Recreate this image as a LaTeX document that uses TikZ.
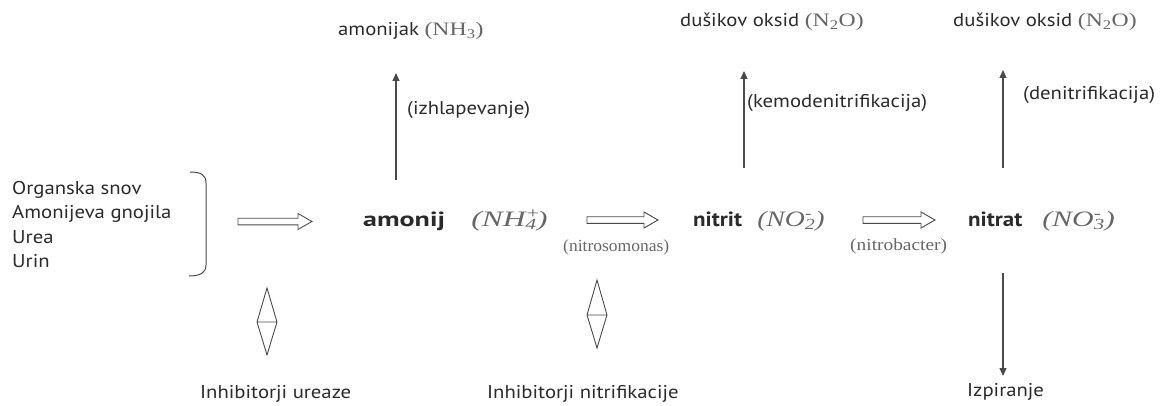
\documentclass[tikz,border=0pt]{standalone}
\usepackage{fontspec}
\setmainfont{PT Sans}[FakeStretch=1.12]
\newfontfamily\serifR{Liberation Serif}
\newfontfamily\serifW{Liberation Serif}[FakeStretch=1.25]
\usetikzlibrary{arrows.meta}
\definecolor{txt}{HTML}{2A2A2A}
\definecolor{gry}{HTML}{666666}
\definecolor{arr}{HTML}{4A4A4A}
\newcommand\harrow[4]{% start x, y, head x, tip x
  \draw[hollow] (#1,#2-3.3) -- (#3,#2-3.3) -- (#3,#2-8) -- (#4,#2) -- (#3,#2+8) -- (#3,#2+3.3) -- (#1,#2+3.3) -- cycle;}
\newcommand\inhibsym[4]{% x, top, mid, bottom
  \draw[inhib] (#1,#2) -- (#1+10,#3) -- (#1,#4) -- (#1-10,#3) -- cycle (#1-10,#3) -- (#1+10,#3);}
\newcommand\gchem[1]{{\fontsize{19}{22}\serifW\color{gry}#1}}
\begin{document}
\begin{tikzpicture}[x=1pt,y=-1pt,
  sans/.style={font=\fontsize{18.5}{22}\selectfont, text=txt, inner sep=0pt, anchor=base west},
  bld/.style={font=\fontsize{20.5}{24}\selectfont\bfseries, text=txt, inner sep=0pt, anchor=base west},
  chem/.style={font=\fontsize{22}{26}\serifR\itshape, text=gry, inner sep=0pt, anchor=base west},
  small/.style={font=\fontsize{17}{20}\serifR, text=gry, inner sep=0pt, anchor=base west},
  uparr/.style={draw=arr, line width=1.2pt, -{Triangle[length=8pt,width=7pt]}},
  hollow/.style={draw=arr, line width=0.9pt, fill=white},
  inhib/.style={draw=arr, line width=0.9pt},
]
\useasboundingbox (0,0) rectangle (1172,406);
% sources
\node[sans] (s1) at (12,194) {Organska snov};
\node[sans] (s2) at (12,218.5) {Amonijeva gnojila};
\node[sans] (s3) at (12,243) {Urea};
\node[sans] (s4) at (12,267.5) {Urin};
\draw[arr, line width=1pt] (190,172) .. controls (201,172) and (206,175) .. (206,183) -- (206,265) .. controls (206,273) and (200,276) .. (189,276);
% main row
\node[bld, xscale=1.22] (amonij) at (363,226) {amonij};
\node[chem, xscale=1.43] (nh4) at (471,226) {(NH\rlap{\textsuperscript{+}}\textsubscript{4})};
\node[bld] (nitrit) at (693,226) {nitrit};
\node[chem, xscale=1.26] (no2) at (757,226) {(NO\rlap{\textsuperscript{-}}\textsubscript{2})};
\node[bld] (nitrat) at (968,226) {nitrat};
\node[chem, xscale=1.36] (no3) at (1042,226) {(NO\rlap{\textsuperscript{-}}\textsubscript{3})};
\harrow{238}{221.5}{298}{312}
\harrow{587}{220}{644}{658}
\harrow{863}{220}{921}{935}
\node[small, xscale=1.03] (nsm) at (563,251) {(nitrosomonas)};
\node[small, xscale=1.14] (nbc) at (850,250) {(nitrobacter)};
% top products
\node[sans] (nh3) at (338,36) {amonijak \gchem{(NH\textsubscript{3})}};
\node[sans] (n2oa) at (680,27) {dušikov oksid \gchem{(N\textsubscript{2}O)}};
\node[sans] (n2ob) at (953,27) {dušikov oksid \gchem{(N\textsubscript{2}O)}};
\coordinate (a1s) at (396,180); \coordinate (a1e) at (396,73);
\coordinate (a2s) at (744,168); \coordinate (a2e) at (744,71);
\coordinate (a3s) at (1003,168); \coordinate (a3e) at (1003,70);
\draw[uparr] (a1s) -- (a1e);
\draw[uparr] (a2s) -- (a2e);
\draw[uparr] (a3s) -- (a3e);
\node[sans] (l1) at (407,115) {(izhlapevanje)};
\node[sans] (l2) at (747,108) {(kemodenitrifikacija)};
\node[sans] (l3) at (1023,100) {(denitrifikacija)};
% leaching
\node[sans] (izp) at (967,396) {Izpiranje};
\coordinate (d1s) at (1003,273); \coordinate (d1e) at (1003,376);
\draw[uparr] (d1s) -- (d1e);
% inhibitors
\inhibsym{267}{288}{322}{355}
\inhibsym{597}{280}{315}{348}
\node[sans] (iu) at (200,398) {Inhibitorji ureaze};
\node[sans] (in) at (487,398) {Inhibitorji nitrifikacije};
\end{tikzpicture}
\end{document}
